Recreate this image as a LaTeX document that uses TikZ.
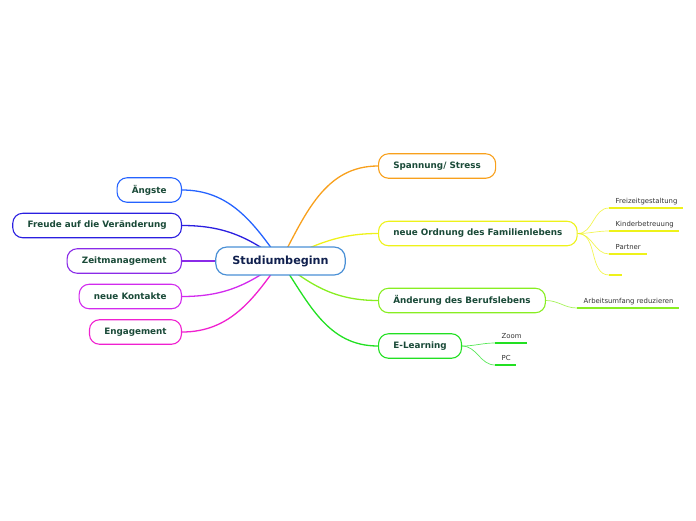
\documentclass[tikz,border=0pt]{standalone}
\usepackage{fontspec}
\setmainfont{DejaVu Sans}
\pgfdeclarelayer{bg}
\pgfsetlayers{bg,main}
\definecolor{rootblue}{HTML}{4A90D6}
\definecolor{roottext}{HTML}{10204E}
\definecolor{topictext}{HTML}{1A4A38}
\definecolor{subtext}{HTML}{333333}
\definecolor{cOrange}{HTML}{F8A01C}
\definecolor{cYellow}{HTML}{EEF21A}
\definecolor{cLgreen}{HTML}{88EE22}
\definecolor{cGreen}{HTML}{22E022}
\definecolor{cBlue}{HTML}{2563FF}
\definecolor{cDblue}{HTML}{2B1FE0}
\definecolor{cPurple}{HTML}{8A2BE8}
\definecolor{cViolet}{HTML}{D22BEE}
\definecolor{cPink}{HTML}{F020D0}
\newcommand\subtxt[2]{\makebox[#1pt][l]{#2}}
\tikzset{
  root/.style={draw=rootblue, line width=1.2pt, rounded corners=11pt, fill=white,
    inner xsep=16.5pt, inner ysep=0pt, minimum height=28pt,
    font=\bfseries\fontsize{11.2}{13}\selectfont, text=roottext},
  topic/.style={draw=#1, line width=1.1pt, rounded corners=10pt, fill=white,
    inner xsep=14.8pt, inner ysep=0pt, minimum height=24.5pt,
    font=\bfseries\fontsize{8.8}{10}\selectfont, text=topictext},
  conn/.style={draw=#1, line width=1.3pt},
  sub/.style={anchor=south west, inner xsep=6.5pt, inner ysep=0pt,
    text height=5.5pt, text depth=4.8pt,
    font=\fontsize{6.9}{8}\selectfont, text=subtext},
  uline/.style={draw=#1, line width=1.8pt},
  subc/.style={draw=#1, line width=0.7pt, draw opacity=0.75},
}
\begin{document}
\begin{tikzpicture}[x=1pt,y=-1pt]
\useasboundingbox (0,0) rectangle (696,520);
% root
\node[root] (c) at (280.5,261) {Studiumbeginn};
% right topics
\node[topic=cOrange, anchor=west] (sp) at (378,166) {Spannung/ Stress};
\node[topic=cYellow, anchor=west] (fam) at (378,233.5) {neue Ordnung des Familienlebens};
\node[topic=cLgreen, anchor=west] (ber) at (378,300.5) {Änderung des Berufslebens};
\node[topic=cGreen, anchor=west] (el) at (378,346) {E-Learning};
% left topics
\node[topic=cBlue, anchor=east] (an) at (182,190) {Ängste};
\node[topic=cDblue, anchor=east] (fr) at (182,225.5) {Freude auf die Veränderung};
\node[topic=cPurple, anchor=east] (zm) at (182,261) {Zeitmanagement};
\node[topic=cViolet, anchor=east] (nk) at (182,296.5) {neue Kontakte};
\node[topic=cPink, anchor=east] (en) at (182,332) {Engagement};
% subtopics
\node[sub] (fz) at (609,208) {\subtxt{61}{Freizeitgestaltung}};
\node[sub] (kb) at (609,231) {\subtxt{57}{Kinderbetreuung}};
\node[sub] (pa) at (609,254) {\subtxt{25}{Partner}};
\node[sub] (em) at (609,275) {\subtxt{0}{}};
\node[sub] (ar) at (577,308) {\subtxt{89}{Arbeitsumfang reduzieren}};
\node[sub] (zo) at (495,343) {\subtxt{19}{Zoom}};
\node[sub] (pc) at (495,365) {\subtxt{8}{PC}};
\draw[uline=cYellow] (fz.south west) -- (fz.south east);
\draw[uline=cYellow] (kb.south west) -- (kb.south east);
\draw[uline=cYellow] (pa.south west) -- (pa.south east);
\draw[uline=cYellow] (em.south west) -- (em.south east);
\draw[uline=cLgreen] (ar.south west) -- (ar.south east);
\draw[uline=cGreen] (zo.south west) -- (zo.south east);
\draw[uline=cGreen] (pc.south west) -- (pc.south east);
\begin{pgfonlayer}{bg}
\draw[conn=cOrange] (c.center) to[out=62,in=180] (sp.west);
\draw[conn=cYellow] (c.center) to[out=25,in=180] (fam.west);
\draw[conn=cLgreen] (c.center) to[out=-39,in=180] (ber.west);
\draw[conn=cGreen] (c.center) to[out=-56,in=180] (el.west);
\draw[conn=cBlue] (c.center) to[out=125,in=0] (an.east);
\draw[conn=cDblue] (c.center) to[out=143,in=0] (fr.east);
\draw[conn=cPurple] (c.center) -- (zm.east);
\draw[conn=cViolet] (c.center) to[out=-143,in=0] (nk.east);
\draw[conn=cPink] (c.center) to[out=-125,in=0] (en.east);
\draw[subc=cYellow] (fam.east) to[out=0,in=180] (fz.south west);
\draw[subc=cYellow] (fam.east) to[out=0,in=180] (kb.south west);
\draw[subc=cYellow] (fam.east) to[out=0,in=180] (pa.south west);
\draw[subc=cYellow] (fam.east) to[out=0,in=180] (em.south west);
\draw[subc=cLgreen] (ber.east) to[out=0,in=180] (ar.south west);
\draw[subc=cGreen] (el.east) to[out=0,in=180] (zo.south west);
\draw[subc=cGreen] (el.east) to[out=0,in=180] (pc.south west);
\end{pgfonlayer}
\end{tikzpicture}
\end{document}
